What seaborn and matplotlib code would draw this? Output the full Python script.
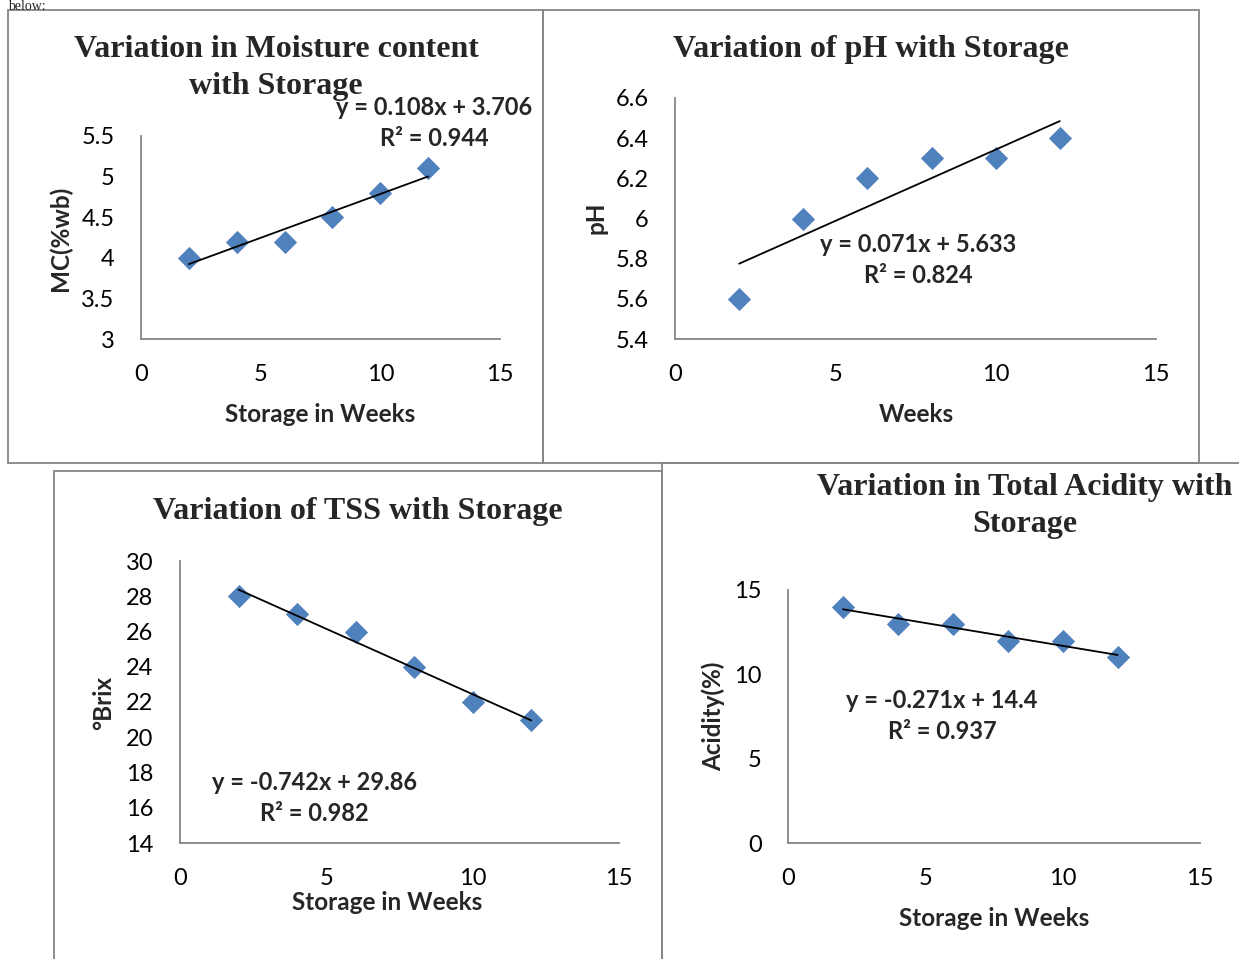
import numpy as np
import pandas as pd
import matplotlib
matplotlib.use("Agg")
import matplotlib.pyplot as plt
from matplotlib.patches import Rectangle
import seaborn as sns

# ---------------- data ----------------
weeks = [2, 4, 6, 8, 10, 12]
moisture = [4.0, 4.2, 4.2, 4.5, 4.8, 5.1]
ph = [5.6, 6.0, 6.2, 6.3, 6.3, 6.4]
tss = [28, 27, 26, 24, 22, 21]
acidity = [14, 13, 13, 12, 12, 11]

slopes = [0.108, 0.071, -0.742, -0.271]
intercepts = [3.706, 5.633, 29.86, 14.4]
r2_values = [0.944, 0.824, 0.982, 0.937]

titles = ["Variation in Moisture content\nwith Storage",
          "Variation of pH with Storage",
          "Variation of TSS with Storage",
          "Variation in Total Acidity with\nStorage"]
xlabels = ["Storage in Weeks", "Weeks", "Storage in Weeks", "Storage in Weeks"]
ylabels = ["MC(%wb)", "pH", "°Brix", "Acidity(%)"]
x_ticks = [0, 5, 10, 15]
y_ticks = [[3, 3.5, 4, 4.5, 5, 5.5],
           [5.4, 5.6, 5.8, 6.0, 6.2, 6.4, 6.6],
           [14, 16, 18, 20, 22, 24, 26, 28, 30],
           [0, 5, 10, 15]]
y_ticklabels = [["3", "3.5", "4", "4.5", "5", "5.5"],
                ["5.4", "5.6", "5.8", "6", "6.2", "6.4", "6.6"],
                ["14", "16", "18", "20", "22", "24", "26", "28", "30"],
                ["0", "5", "10", "15"]]
series = [moisture, ph, tss, acidity]

# ---------------- layout (pixels) ----------------
W, H = 1239, 959
sns.set_style("white")
plt.rcParams["font.family"] = ["Lato", "DejaVu Sans"]

fig = plt.figure(figsize=(W / 100, H / 100), dpi=100)
fig.patch.set_facecolor("white")

# axes boxes: left, top, right, bottom (pixels)
boxes = [(141, 136, 500, 339),
         (675, 98, 1156, 339),
         (180, 561, 619, 843),
         (788, 590, 1200, 843)]
# panel borders: left, top, right, bottom
borders = [(8, 10, 543, 463),
           (543, 10, 1199, 463),
           (54, 471, 662, 962),
           (662, 463, 1242, 962)]
title_pos = [(276, 68), (871, 49), (358, 511), (1025, 506)]
xlabel_pos = [(320, 414), (916, 414), (387, 902), (994, 919)]
ylabel_pos = [(60, 238), (596, 218), (104, 703), (713, 716)]
eq_pos = [(434, 123), (918, 260), (314, 798), (942, 716)]
ytick_len = [6, 0, 0, 6]

GRAY = "#868686"
BLUE = "#4F81BD"

for (l, t, r, b) in borders:
    fig.add_artist(Rectangle((l / W, 1 - b / H), (r - l) / W, (b - t) / H,
                             transform=fig.transFigure, fill=False,
                             edgecolor=GRAY, linewidth=1.3, clip_on=False))

fig.text(8 / W, 1 - 0.5 / H, "below:", family="Liberation Serif", fontsize=10,
         ha="left", va="top")

for i in range(4):
    l, t, r, b = boxes[i]
    ax = fig.add_axes([l / W, 1 - b / H, (r - l) / W, (b - t) / H])
    ax.set_facecolor("none")
    df = pd.DataFrame({"week": weeks, "value": series[i]})
    sns.scatterplot(data=df, x="week", y="value", marker="D", s=140,
                    color=BLUE, edgecolor=BLUE, linewidth=0, ax=ax, zorder=3)
    fit = pd.DataFrame({"week": [min(weeks), max(weeks)]})
    fit["value"] = slopes[i] * fit["week"] + intercepts[i]
    sns.lineplot(data=fit, x="week", y="value", color="black", linewidth=1.3,
                 ax=ax, zorder=4)

    ax.set_xlim(0, 15)
    ax.set_ylim(y_ticks[i][0], y_ticks[i][-1])
    ax.set_xticks(x_ticks)
    ax.set_xticklabels([str(v) for v in x_ticks])
    ax.set_yticks(y_ticks[i])
    ax.set_yticklabels(y_ticklabels[i])
    for s in ["top", "right"]:
        ax.spines[s].set_visible(False)
    for s in ["left", "bottom"]:
        ax.spines[s].set_color(GRAY)
        ax.spines[s].set_linewidth(1.3)
    ax.tick_params(axis="x", length=0, pad=18, labelsize=17, colors="black")
    ax.tick_params(axis="y", length=ytick_len[i] * 0.72, width=1.0, color=GRAY,
                   direction="out", pad=(25 - ytick_len[i]) * 0.72 + 1,
                   labelsize=17, labelcolor="black")
    ax.set_xlabel(xlabels[i], fontsize=17.5, fontweight="bold")
    ax.set_ylabel(ylabels[i], fontsize=17.5, fontweight="bold")
    xl = xlabel_pos[i]
    yl = ylabel_pos[i]
    ax.xaxis.label.set_va("center")
    ax.yaxis.label.set_va("center")
    ax.xaxis.set_label_coords((xl[0] - l) / (r - l), (b - xl[1]) / (b - t))
    ax.yaxis.set_label_coords((yl[0] - l) / (r - l), (b - yl[1]) / (b - t))

    tp = title_pos[i]
    fig.text(tp[0] / W, 1 - tp[1] / H, titles[i], family="Liberation Serif",
             fontweight="bold", fontsize=23, ha="center", va="center",
             linespacing=1.38)
    ep = eq_pos[i]
    sign = "-" if slopes[i] < 0 else ""
    eq = f"y = {sign}{abs(slopes[i]):g}x + {intercepts[i]:g}\nR² = {r2_values[i]:g}"
    fig.text(ep[0] / W, 1 - ep[1] / H, eq, fontsize=17, fontweight="bold",
             ha="center", va="center", linespacing=1.45)

fig.savefig("out.png", dpi=100, facecolor="white")
